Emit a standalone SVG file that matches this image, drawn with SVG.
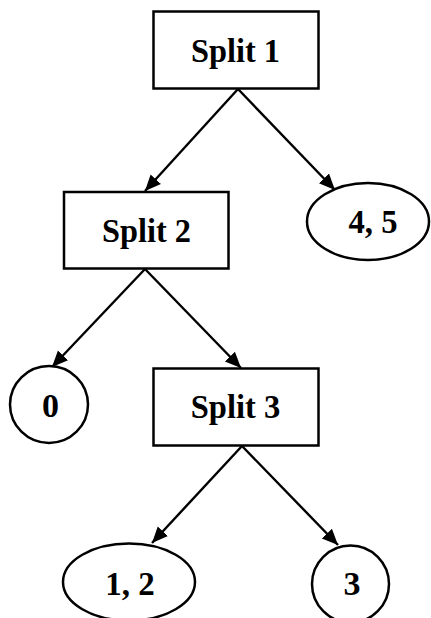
<svg xmlns="http://www.w3.org/2000/svg" width="431" height="618" viewBox="0 0 431 618">
<style>
.box{fill:#fff;stroke:#000;stroke-width:2.5}
.lbl{font-family:"Liberation Serif","Times New Roman",serif;font-weight:bold;font-size:34px;text-anchor:middle;fill:#000}
.edge{stroke:#000;stroke-width:2.4;fill:none;marker-end:url(#ah)}
</style>
<defs>
<marker id="ah" markerUnits="userSpaceOnUse" markerWidth="18" markerHeight="18" viewBox="0 0 18 18" refX="16" refY="9" orient="auto">
<path d="M0,2 L16,9 L0,16 Z" fill="#000"/>
</marker>
</defs>
<rect width="431" height="618" fill="#fff"/>
<g id="connectors">
<line class="edge" x1="238" y1="89" x2="145" y2="191"/>
<line class="edge" x1="238" y1="89" x2="335" y2="190"/>
<line class="edge" x1="145" y1="269" x2="52" y2="367"/>
<line class="edge" x1="145" y1="269" x2="241" y2="368"/>
<line class="edge" x1="242" y1="446" x2="152" y2="543"/>
<line class="edge" x1="242" y1="446" x2="338" y2="545"/>
</g>
<g id="split1">
<rect class="box" x="153.5" y="11.5" width="165" height="77"/>
<text class="lbl" x="235.5" y="62" textLength="89" lengthAdjust="spacingAndGlyphs">Split 1</text>
</g>
<g id="split2">
<rect class="box" x="64" y="192" width="164.5" height="76.5"/>
<text class="lbl" x="146.5" y="242" textLength="89" lengthAdjust="spacingAndGlyphs">Split 2</text>
</g>
<g id="leaf45">
<ellipse class="box" cx="368" cy="221.5" rx="61" ry="38.5"/>
<text class="lbl" x="373" y="233" textLength="49" lengthAdjust="spacingAndGlyphs">4, 5</text>
</g>
<g id="leaf0">
<ellipse class="box" cx="49" cy="404.5" rx="39" ry="38.5"/>
<text class="lbl" x="50.5" y="417">0</text>
</g>
<g id="split3">
<rect class="box" x="153.5" y="368.5" width="165" height="77"/>
<text class="lbl" x="235.5" y="418" textLength="89.5" lengthAdjust="spacingAndGlyphs">Split 3</text>
</g>
<g id="leaf12">
<ellipse class="box" cx="129" cy="582" rx="66" ry="38.5"/>
<text class="lbl" x="130" y="595" textLength="49.5" lengthAdjust="spacingAndGlyphs">1, 2</text>
</g>
<g id="leaf3">
<ellipse class="box" cx="350.5" cy="584" rx="38.5" ry="38.5"/>
<text class="lbl" x="352" y="595">3</text>
</g>
</svg>
